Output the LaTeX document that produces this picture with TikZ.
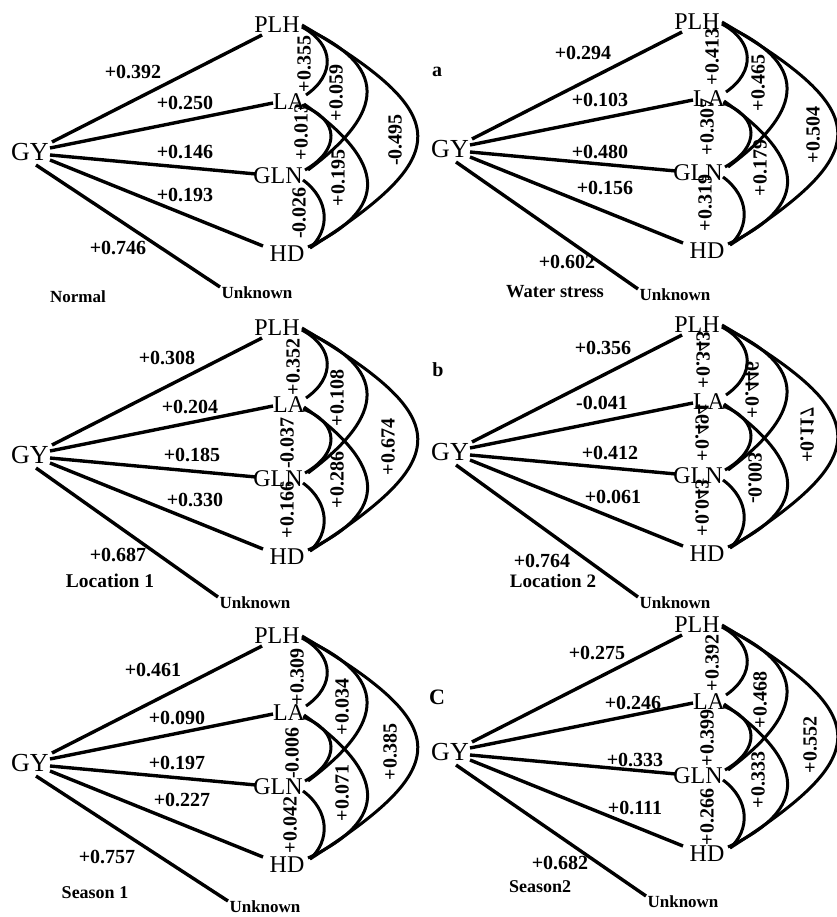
\documentclass[tikz,border=0pt]{standalone}
\usepackage{fontspec}
\setmainfont{Liberation Serif}
\usetikzlibrary{calc}

\tikzset{
  var/.style={font=\fontsize{24}{24}\selectfont, inner sep=0pt},
  gyvar/.style={font=\fontsize{26}{26}\selectfont, inner sep=0pt},
  coef/.style={font=\bfseries\fontsize{20}{20}\selectfont, inner sep=0pt},
  vcoef/.style={coef, rotate=90},
  mcoef/.style={coef, rotate=90, yscale=-1},
  cond/.style={font=\bfseries\fontsize{18}{18}\selectfont, inner sep=0pt},
  unk/.style={font=\bfseries\fontsize{17}{17}\selectfont, inner sep=0pt},
  letter/.style={font=\bfseries\fontsize{20}{20}\selectfont, inner sep=0pt},
  link/.style={line width=3.4pt},
  curvelink/.style={line width=3pt},
}

% Skeleton of one path diagram: variables, direct paths from GY,
% and the correlation curves between the four traits.
% #1 = name prefix, #2 = position of the "Unknown" residual node
\newcommand\pathpanel[2]{%
  \node[gyvar] (#1GY)  at (30,152)  {GY};
  \node[var]   (#1PLH) at (277,25)  {PLH};
  \node[var]   (#1LA)  at (289,102) {LA};
  \node[var]   (#1GLN) at (278,176) {GLN};
  \node[var]   (#1HD)  at (287,254) {HD};
  \node[unk]   (#1U)   at #2        {Unknown};
  % direct paths
  \draw[link] ($(#1GY)+(22,-10)$) -- ($(#1PLH)+(-15,10)$);
  \draw[link] ($(#1GY)+(20,-4)$)  -- ($(#1LA)+(-16,1)$);
  \draw[link] ($(#1GY)+(20,3)$)   -- ($(#1GLN)+(-22,-2)$);
  \draw[link] ($(#1GY)+(20,8)$)   -- ($(#1HD)+(-24,-8)$);
  \draw[link] ($(#1GY)+(6,13)$)   -- ($(#1U)+(-37,-6)$);
  % correlations
  \draw[curvelink] ($(#1PLH)+(25,2)$) .. controls +(33,18) and +(29,-20) .. ($(#1LA)+(17,-7)$);
  \draw[curvelink] ($(#1LA)+(14,4)$) .. controls +(37,14) and +(35,-20) .. ($(#1GLN)+(27,-6)$);
  \draw[curvelink] ($(#1GLN)+(25,4)$) .. controls +(27,20) and +(20,-18) .. ($(#1HD)+(23,-6)$);
  \draw[curvelink] ($(#1PLH)+(25,2)$) .. controls +(98,43) and +(67,-50) .. ($(#1GLN)+(30,-6)$);
  \draw[curvelink] ($(#1LA)+(15,2)$) .. controls +(71,50) and +(92,-43) .. ($(#1HD)+(21,-7)$);
  \draw[curvelink] ($(#1PLH)+(25,0)$) .. controls +(153,90) and +(145,-93) .. ($(#1HD)+(23,-6)$);
}

\begin{document}
\begin{tikzpicture}[x=1pt, y=-1pt]
\useasboundingbox (0,0) rectangle (836,917);
\fill[white] (0,0) rectangle (836,917);

% ---------------- Normal ----------------
\begin{scope}
  \pathpanel{n}{(257,293)}
  \node[coef] (nc1) at (133,72)  {+0.392};
  \node[coef] (nc2) at (185,103) {+0.250};
  \node[coef] (nc3) at (185,152) {+0.146};
  \node[coef] (nc4) at (185,195) {+0.193};
  \node[coef] (nc5) at (118,248) {+0.746};
  \node[vcoef] (nr1) at (304,64)  {+0.355};
  \node[vcoef] (nr2) at (301,132) {+0.013};
  \node[vcoef] (nr3) at (299,213) {-0.026};
  \node[vcoef] (nr4) at (336,93)  {+0.059};
  \node[vcoef] (nr5) at (338,178) {+0.195};
  \node[vcoef] (nr6) at (395,140) {-0.495};
  \node[cond, font=\bfseries\fontsize{17}{17}\selectfont] (ncond) at (78,297) {Normal};
\end{scope}

% ---------------- Water stress ----------------
\begin{scope}[shift={(420,-3)}]
  \pathpanel{w}{(255,298)}
  \node[letter] (wlet) at (17,75) {a};
  \node[coef] (wc1) at (163,56)  {+0.294};
  \node[coef] (wc2) at (180,103) {+0.103};
  \node[coef] (wc3) at (180,155) {+0.480};
  \node[coef] (wc4) at (185,191) {+0.156};
  \node[coef] (wc5) at (147,265) {+0.602};
  \node[vcoef] (wr1) at (292,60)  {+0.413};
  \node[vcoef] (wr2) at (287,130) {+0.307};
  \node[vcoef] (wr3) at (285,206) {+0.319};
  \node[vcoef] (wr4) at (338,86)  {+0.465};
  \node[vcoef] (wr5) at (340,171) {+0.179};
  \node[vcoef] (wr6) at (393,138) {+0.504};
  \node[cond, font=\bfseries\fontsize{18.5}{18.5}\selectfont] (wcond) at (135,295) {Water stress};
\end{scope}

% ---------------- Location 1 ----------------
\begin{scope}[shift={(0,303)}]
  \pathpanel{p}{(255,300)}
  \node[coef] (pc1) at (167,55)  {+0.308};
  \node[coef] (pc2) at (190,104) {+0.204};
  \node[coef] (pc3) at (192,152) {+0.185};
  \node[coef] (pc4) at (195,197) {+0.330};
  \node[coef] (pc5) at (118,252) {+0.687};
  \node[vcoef] (pr1) at (293,64)  {+0.352};
  \node[vcoef] (pr2) at (287,140) {-0.037};
  \node[vcoef] (pr3) at (287,207) {+0.166};
  \node[vcoef] (pr4) at (337,95)  {+0.108};
  \node[vcoef] (pr5) at (337,177) {+0.286};
  \node[vcoef] (pr6) at (388,144) {+0.674};
  \node[cond, font=\bfseries\fontsize{19.5}{19.5}\selectfont] (pcond) at (110,278) {Location 1};
\end{scope}

% ---------------- Location 2 ----------------
\begin{scope}[shift={(420,300)}]
  \pathpanel{q}{(255,303)}
  \node[letter] (qlet) at (18,70) {b};
  \node[coef] (qc1) at (183,48)  {+0.356};
  \node[coef] (qc2) at (182,103) {-0.041};
  \node[coef] (qc3) at (190,153) {+0.412};
  \node[coef] (qc4) at (193,197) {+0.061};
  \node[coef] (qc5) at (122,261) {+0.764};
  \node[mcoef] (qr1) at (283,60)  {+0.343};
  \node[mcoef] (qr2) at (282,133) {+0.494};
  \node[mcoef] (qr3) at (282,208) {+0.043};
  \node[mcoef] (qr4) at (332,90)  {+0.446};
  \node[mcoef] (qr5) at (335,178) {-0.003};
  \node[mcoef] (qr6) at (387,135) {+0.117};
  \node[cond, font=\bfseries\fontsize{19}{19}\selectfont] (qcond) at (133,281) {Location 2};
\end{scope}

% ---------------- Season 1 ----------------
\begin{scope}[shift={(0,611)}]
  \pathpanel{s}{(265,296)}
  \node[coef] (sc1) at (153,59)  {+0.461};
  \node[coef] (sc2) at (177,107) {+0.090};
  \node[coef] (sc3) at (177,152) {+0.197};
  \node[coef] (sc4) at (182,189) {+0.227};
  \node[coef] (sc5) at (107,246) {+0.757};
  \node[vcoef] (sr1) at (297,66)  {+0.309};
  \node[vcoef] (sr2) at (292,142) {-0.006};
  \node[vcoef] (sr3) at (290,214) {+0.042};
  \node[vcoef] (sr4) at (342,96)  {+0.034};
  \node[vcoef] (sr5) at (342,182) {+0.071};
  \node[vcoef] (sr6) at (390,141) {+0.385};
  \node[cond, font=\bfseries\fontsize{18}{18}\selectfont] (scond) at (95,282) {Season 1};
\end{scope}

% ---------------- Season 2 ----------------
\begin{scope}[shift={(420,600)}]
  \pathpanel{t}{(263,302)}
  \node[letter, font=\bfseries\fontsize{22}{22}\selectfont] (tlet) at (17,97) {C};
  \node[coef] (tc1) at (177,53)  {+0.275};
  \node[coef] (tc2) at (213,103) {+0.246};
  \node[coef] (tc3) at (215,160) {+0.333};
  \node[coef] (tc4) at (215,208) {+0.111};
  \node[coef] (tc5) at (140,263) {+0.682};
  \node[vcoef] (tr1) at (292,63)  {+0.392};
  \node[vcoef] (tr2) at (287,138) {+0.399};
  \node[vcoef] (tr3) at (287,217) {+0.266};
  \node[vcoef] (tr4) at (340,100) {+0.468};
  \node[vcoef] (tr5) at (338,180) {+0.333};
  \node[vcoef] (tr6) at (390,145) {+0.552};
  \node[cond, font=\bfseries\fontsize{18}{18}\selectfont] (tcond) at (120,287) {Season2};
\end{scope}
\end{tikzpicture}
\end{document}
